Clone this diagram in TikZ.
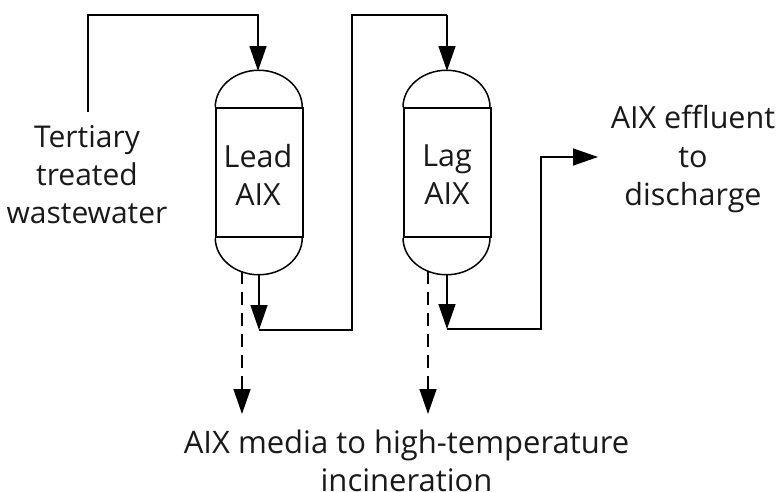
\documentclass[tikz,border=0pt]{standalone}
\usepackage{fontspec}
\setmainfont{Open Sans}
\usetikzlibrary{arrows.meta}
\tikzset{
  lbl/.style={align=center,inner sep=0pt,text=black!90},
  vessel/.style={draw,line width=1.5pt,minimum width=87pt,minimum height=129pt,inner sep=0pt},
  shell/.style={line width=1.5pt},
  flow/.style={line width=1.5pt,-{Triangle[length=25pt,width=17pt]}},
  pipe/.style={line width=1.5pt},
  media/.style={flow,dash pattern=on 13pt off 8pt}
}
\begin{document}
\begin{tikzpicture}[x=1pt,y=-1pt]
\useasboundingbox (0,0) rectangle (780,491);
\node[vessel] (lead) at (259.5,172.5) {};
\node[vessel] (lag) at (447.25,172.5) {};
\draw[shell] (lead.north west) arc[start angle=180,end angle=0,x radius=43.5pt,y radius=37pt];
\draw[shell] (lead.south west) arc[start angle=180,end angle=360,x radius=43.5pt,y radius=37pt];
\draw[shell] (lag.north west) arc[start angle=180,end angle=0,x radius=43.5pt,y radius=37pt];
\draw[shell] (lag.south west) arc[start angle=180,end angle=360,x radius=43.5pt,y radius=37pt];
\coordinate (leadin) at (258,71);
\coordinate (lagin) at (447,71);
\coordinate (leadout) at (259,274);
\coordinate (lagout) at (447,274);
\coordinate (leadj) at (259,330);
\coordinate (lagj) at (447,329);
\coordinate (leadm) at (242,271);
\coordinate (lagm) at (428,271);
\coordinate (leadme) at (242,414);
\coordinate (lagme) at (428,414);
\coordinate (feed) at (88,112);
\coordinate (out) at (598,157);
\node[lbl,font=\fontsize{30.5}{38}\selectfont] (leadt) at (258,174.5) {Lead\\AIX};
\node[lbl,font=\fontsize{30.5}{38}\selectfont] (lagt) at (447,175) {Lag\\AIX};
\node[lbl,font=\fontsize{30}{38}\selectfont] (tw) at (87,175) {Tertiary\\treated\\wastewater};
\node[lbl,font=\fontsize{30.5}{38.5}\selectfont] (eff) at (693,159) {AIX effluent\\to\\discharge};
\node[lbl,font=\fontsize{31}{38}\selectfont] (inc) at (406.5,460.5) {AIX media to high-temperature\\incineration};
\draw[flow] (feed) |- (258,15) -- (leadin);
\draw[flow] (leadout) -- (leadj);
\draw[pipe] (leadj) -- (352,330) -- (352,15) -- (447,15);
\draw[flow] (447,15) -- (lagin);
\draw[flow] (lagout) -- (lagj);
\draw[flow] (lagj) -- (541,329) -- (541,157) -- (out);
\draw[media] (leadm) -- (leadme);
\draw[media] (lagm) -- (lagme);
\end{tikzpicture}
\end{document}
